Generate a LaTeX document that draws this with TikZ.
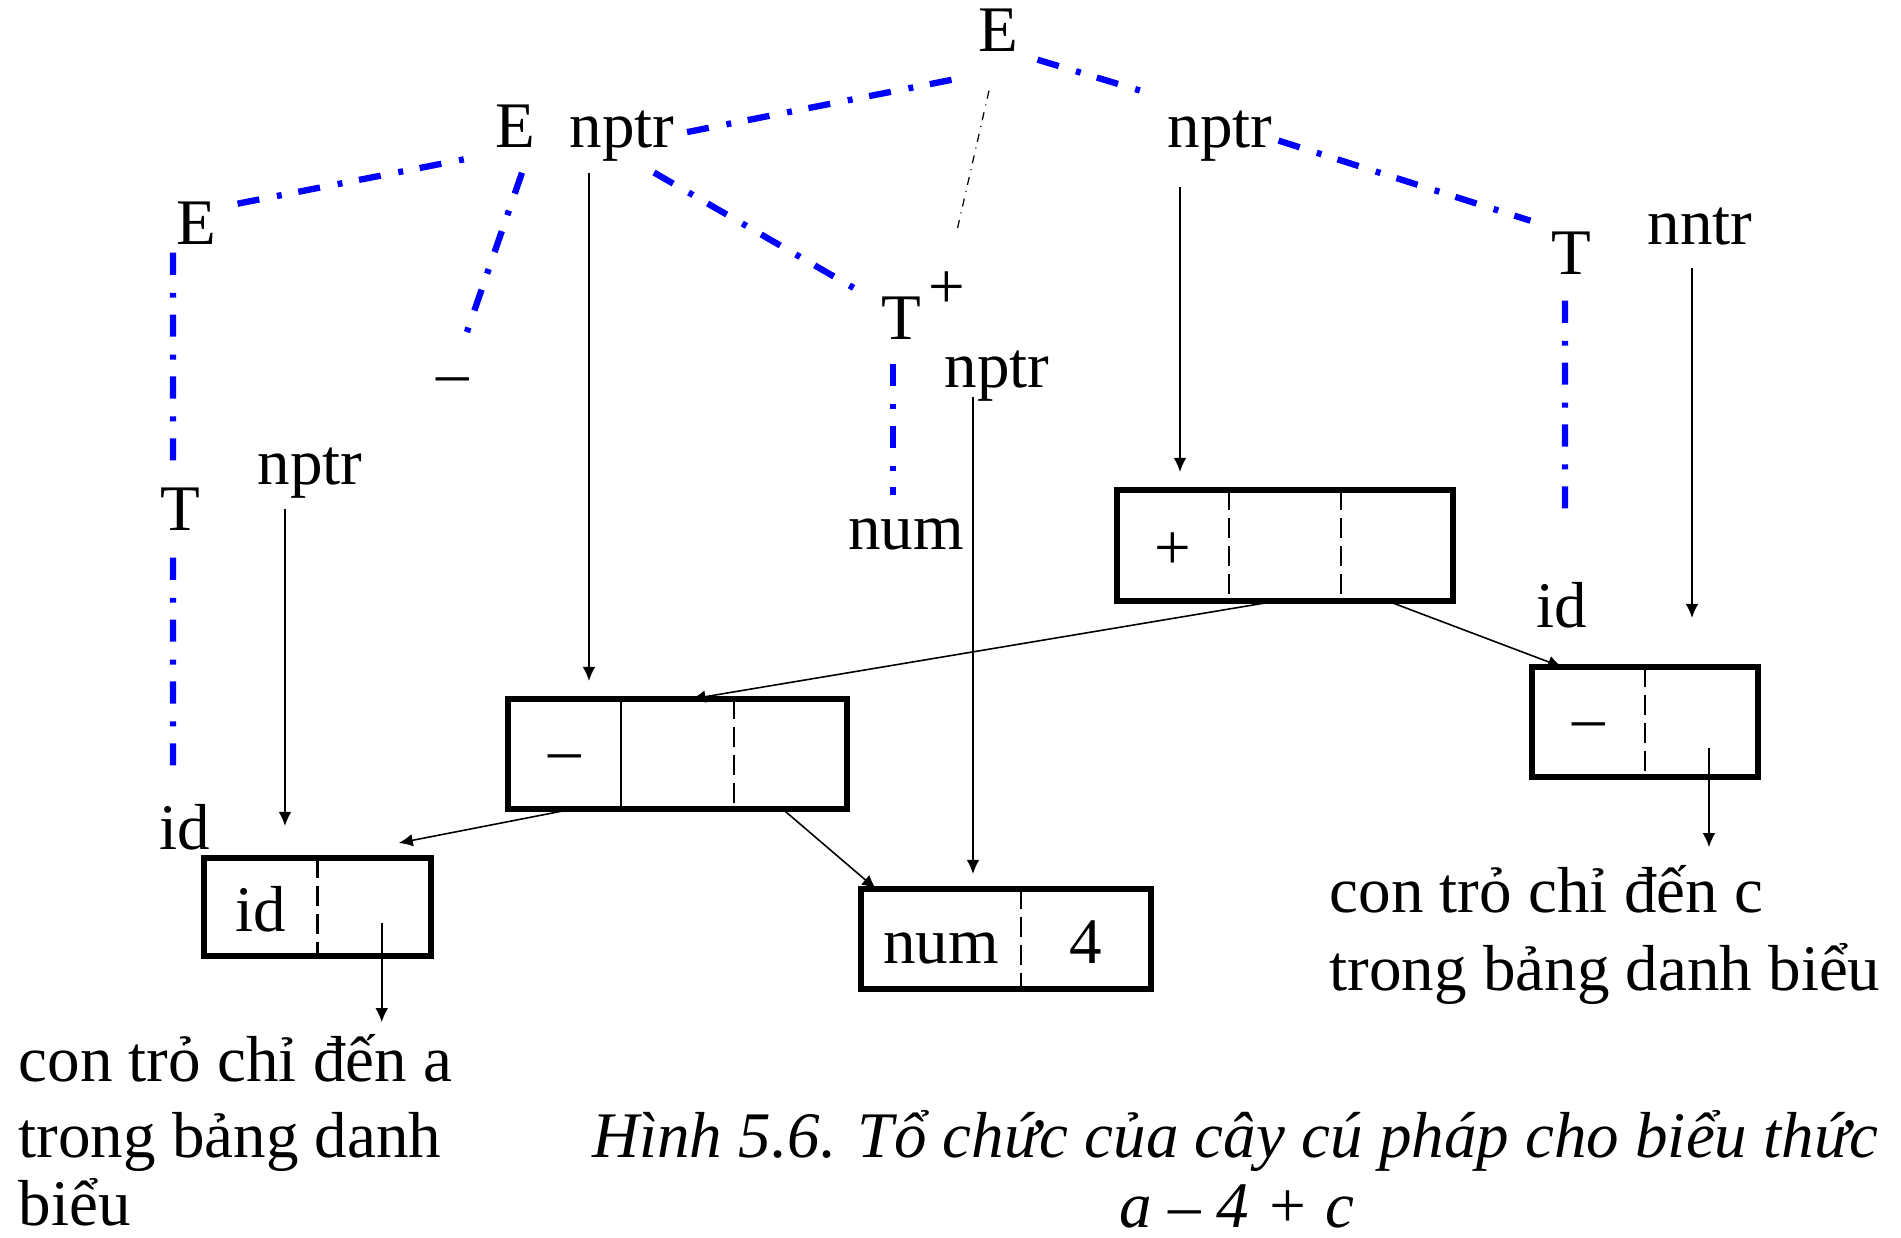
\documentclass[tikz,border=0pt]{standalone}
\usepackage{fontspec}
\setmainfont{Liberation Serif}
\usetikzlibrary{arrows.meta}
\usetikzlibrary{calc}
\usetikzlibrary{positioning}

\tikzset{
	lbl/.style={inner sep=0pt, anchor=base},
	note/.style={inner sep=0pt, anchor=base west},
	tree/.style={blue, line width=1.8pt, dash pattern=on 6.3pt off 5.1pt on 1.4pt off 4.8pt},
	thintree/.style={line width=0.35pt, dash pattern=on 2.3pt off 1.7pt on 0.3pt off 2pt},
	ptr/.style={line width=0.45pt, -{Latex[length=4pt,width=3.6pt]}},
	cell/.style={inner sep=0pt, outer sep=0pt, minimum width=1.13cm, minimum height=1.1cm,
		text height=13.7pt, text depth=0pt},
	sym/.style={text height=10pt},
	recframe/.style={line width=1.6pt},
	cellsep/.style={line width=0.6pt, dash pattern=on 5.7pt off 2.3pt},
	cellwall/.style={line width=0.6pt}
}

\begin{document}
\begin{tikzpicture}[font=\fontsize{18.5}{21.6}\selectfont]
		\useasboundingbox (0,0) rectangle (19.01,12.38);

		% tree labels
		\draw (9.98,11.86) node[lbl] (topE) {E};
		\draw (5.155,10.90) node[lbl] (E1) {E};
		\draw (6.22,10.90) node[lbl] (nptr1) {nptr};
		\draw (12.20,10.90) node[lbl] (nptr3) {nptr};
		\draw (1.965,9.93) node[lbl] (E2) {E};
		\draw (4.53,8.435) node[lbl] (minusA) {–};
		\draw (9.01,8.98) node[lbl] (Tmid) {T};
		\draw (9.47,9.29) node[lbl] (plusT) {+};
		\draw (9.97,8.50) node[lbl] (nptr2) {nptr};
		\draw (9.06,6.88) node[lbl] (num1) {num};
		\draw (15.71,9.63) node[lbl] (Tright) {T};
		\draw (17.00,9.93) node[lbl] (nntr) {nntr};
		\draw (1.80,7.07) node[lbl] (Tleft) {T};
		\draw (3.10,7.53) node[lbl] (nptr4) {nptr};
		\draw (1.85,3.88) node[lbl] (idL) {id};
		\draw (15.62,6.10) node[lbl] (idR) {id};

		% parse tree edges
		\draw[tree] ([shift={(0.12,0.045)}]nptr1.east) -- ([shift={(-0.10,-0.24)}]topE.south west);
		\draw[tree] ([shift={(0.19,-0.07)}]topE.south east) -- ([shift={(-0.215,0.185)}]nptr3.north west);
		\draw[thintree] ([shift={(-0.09,-0.38)}]topE.south) -- ([shift={(0.10,0.41)}]plusT.north);
		\draw[tree] ([shift={(0.205,-0.02)}]E2.north east) -- ([shift={(-0.175,-0.08)}]E1.south west);
		\draw[tree] ([shift={(0.065,-0.24)}]E1.south) -- ([shift={(0.11,0.365)}]minusA.north);
		\draw[tree] ([shift={(0.32,-0.10)}]nptr1.south) -- ([shift={(-0.15,0.02)}]Tmid.north west);
		\draw[tree] ([shift={(-0.235,-0.07)}]E2.south) -- ([shift={(-0.07,0.21)}]Tleft.north);
		\draw[tree] ([shift={(-0.07,-0.26)}]Tleft.south) -- ([shift={(-0.12,0.29)}]idL.north);
		\draw[tree] ([shift={(-0.08,-0.23)}]Tmid.south) -- ([shift={(-0.13,0.24)}]num1.north);
		\draw[tree] ([shift={(0.055,-0.04)}]nptr3.east) -- ([shift={(-0.20,0.11)}]Tright.north west);
		\draw[tree] ([shift={(-0.06,-0.25)}]Tright.south) -- ([shift={(0.03,0.65)}]idR.north);

		% record for +
		\draw (11.17,7.48) node[cell, anchor=north west, minimum width=1.12cm, minimum height=1.11cm] (p1) {+};
		\node[cell, right=0pt of p1, minimum width=1.12cm, minimum height=1.11cm] (p2) {};
		\node[cell, right=0pt of p2, minimum width=1.12cm, minimum height=1.11cm] (p3) {};
		\draw[recframe] (p1.north west) rectangle (p3.south east);
		\draw[cellsep] (p1.north east) -- (p1.south east);
		\draw[cellsep] (p2.north east) -- (p2.south east);

		% record for -
		\draw (5.08,5.39) node[cell, sym, anchor=north west] (m1) {–};
		\node[cell, right=0pt of m1] (m2) {};
		\node[cell, right=0pt of m2] (m3) {};
		\draw[recframe] (m1.north west) rectangle (m3.south east);
		\draw[cellwall] (m1.north east) -- (m1.south east);
		\draw[cellsep] (m2.north east) -- (m2.south east);

		% leaf id
		\draw (2.04,3.80) node[cell, anchor=north west, minimum width=1.135cm, minimum height=0.98cm] (i1) {id};
		\node[cell, right=0pt of i1, minimum width=1.135cm, minimum height=0.98cm] (i2) {};
		\draw[recframe] (i1.north west) rectangle (i2.south east);
		\draw[cellsep] (i1.north east) -- (i1.south east);

		% leaf num
		\draw (8.61,3.49) node[cell, anchor=north west, minimum width=1.60cm, minimum height=1.0cm] (n1) {num};
		\node[cell, right=0pt of n1, minimum width=1.30cm, minimum height=1.0cm] (n2) {4};
		\draw[recframe] (n1.north west) rectangle (n2.south east);
		\draw[cellsep] (n1.north east) -- (n1.south east);

		% leaf id for c
		\draw (15.32,5.71) node[cell, sym, anchor=north west] (r1) {–};
		\node[cell, right=0pt of r1] (r2) {};
		\draw[recframe] (r1.north west) rectangle (r2.south east);
		\draw[cellsep] (r1.north east) -- (r1.south east);

		% notes and caption
		\draw (0.18,1.56) node[note] (noteA1) {con trỏ chỉ đến a};
		\draw (0.18,0.80) node[note] (noteA2) {trong bảng danh};
		\draw (0.18,0.12) node[note] (noteA3) {biểu};
		\draw (13.29,3.25) node[note] (noteC1) {con trỏ chỉ đến c};
		\draw (13.29,2.47) node[note] (noteC2) {trong bảng danh biểu};
		\draw (12.355,0.80) node[lbl] (cap1) {\itshape Hình 5.6. Tổ chức của cây cú pháp cho biểu thức};
		\draw (12.37,0.10) node[lbl] (cap2) {\itshape a – 4 + c};

		% pointers
		\coordinate (q1) at ([shift={(-0.33,-0.10)}]nptr1.south);
		\coordinate (q2) at ([shift={(-0.40,-0.24)}]nptr3.south);
		\coordinate (q3) at ([shift={(-0.25,-0.09)}]nptr4.south);
		\coordinate (q4) at ([shift={(-0.24,0.06)}]nptr2.south);
		\coordinate (q5) at ([shift={(-0.08,-0.22)}]nntr.south);
		\coordinate (q6) at ([shift={(0.075,-0.16)}]i2.center);
		\coordinate (q7) at ([shift={(0.075,-0.26)}]r2.center);
		\draw[ptr, shorten >=1.8mm] (q1) -- (q1 |- m1.north);
		\draw[ptr, shorten >=1.8mm] (q2) -- (q2 |- p1.north);
		\draw[ptr, shorten >=3.2mm] (q3) -- (q3 |- i1.north);
		\draw[ptr, shorten >=1.5mm] (q4) -- (q4 |- n1.north);
		\draw[ptr, shorten >=4.9mm] (q5) -- (q5 |- r1.north);
		\draw[ptr, shorten >=1.2mm] (q6) -- (q6 |- noteA1.north);
		\draw[ptr, shorten >=1.8mm] (q7) -- (q7 |- noteC1.north);
		\draw[ptr] ([xshift=-0.8mm]p2.south) -- ([xshift=1.4mm]m2.north);
		\draw[ptr] ([xshift=-0.95mm]p3.south) -- ([xshift=-2.65mm]r1.north);
		\draw[ptr] ([xshift=0.85mm]m1.south) -- ([shift={(0.245,0.15)}]i2.north);
		\draw[ptr] ([xshift=-0.8mm]m3.south) -- ([xshift=1.5mm]n1.north west);
\end{tikzpicture}
\end{document}
